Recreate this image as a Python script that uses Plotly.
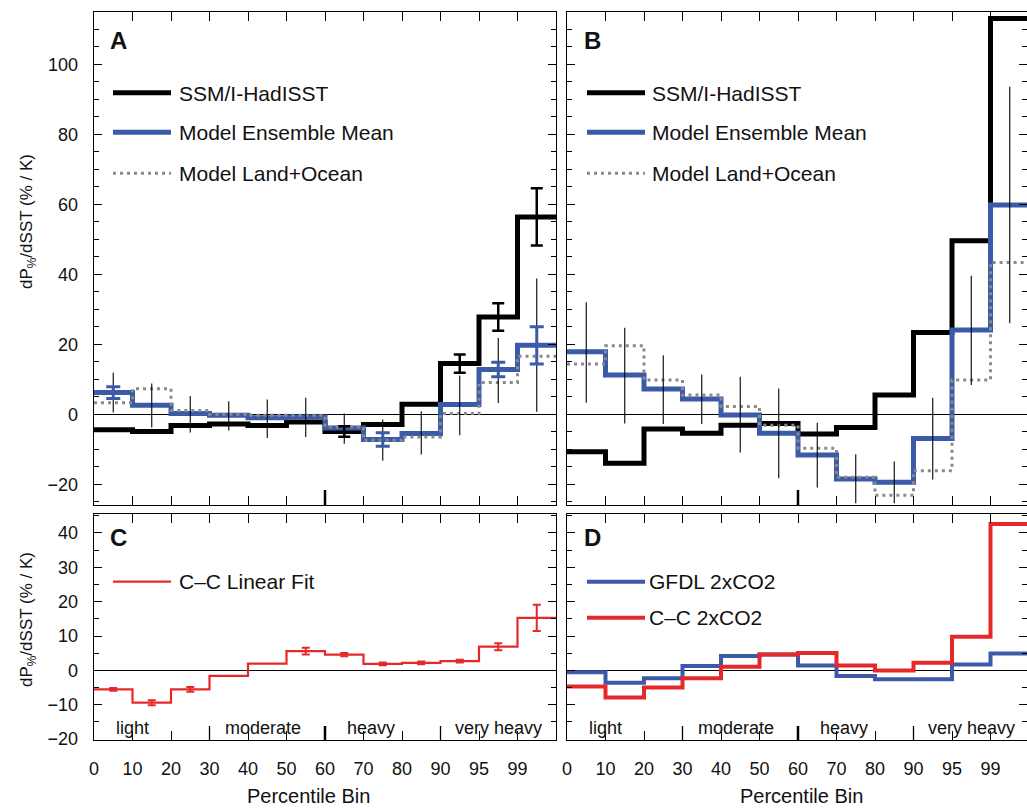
import plotly.graph_objects as go

W, H = 1027, 809
FONT = "Liberation Sans, Arial, Helvetica, sans-serif"

# ---------------- data ----------------
tick_labels = ["0", "10", "20", "30", "40", "50", "60", "70", "80", "90", "95", "99"]
categories = ["light", "moderate", "heavy", "very heavy"]
category_pos = [1.0, 4.4, 7.2, 10.5]

# Panel A
a_obs = [-4.4, -4.9, -3.2, -2.8, -3.2, -2.2, -4.9, -2.9, 2.9, 14.5, 27.8, 56.4]
a_ens = [6.2, 2.6, 0.2, -0.3, -1.0, -0.8, -3.9, -7.2, -5.5, 2.8, 12.8, 19.7]
a_lo = [3.3, 7.3, 1.1, 0.0, -0.3, -0.3, -3.6, -7.4, -6.5, 0.2, 9.1, 16.6]
a_obs_err = [None, None, None, None, None, None, 1.5, None, None, 2.6, 3.9, 8.2]
a_ens_err = [1.7, None, None, None, None, None, None, 1.9, None, None, 2.1, 5.3]
a_spread_low = [0.5, -3.8, -5.2, -4.6, -6.8, -6.5, -8.4, -13.3, -11.5, -6.0, 3.2, 0.7]
a_spread_high = [11.9, 8.8, 5.2, 3.7, 4.2, 4.7, 0.2, -1.5, 0.9, 11.1, 21.8, 38.8]

# Panel B
b_obs = [-10.7, -14.0, -4.2, -5.4, -3.1, -2.6, -5.6, -3.8, 5.5, 23.4, 49.6, 113.1]
b_ens = [17.9, 11.2, 7.2, 4.4, -0.2, -5.4, -11.6, -18.5, -19.4, -6.9, 24.1, 59.8]
b_lo = [14.4, 19.6, 9.8, 5.5, 2.2, -3.1, -9.7, -18.0, -23.1, -16.1, 9.8, 43.4]
b_spread_low = [3.3, -2.6, -2.8, -2.8, -10.9, -18.3, -20.9, -25.4, -25.4, -18.6, 8.4, 26.0]
b_spread_high = [32.0, 24.7, 16.9, 11.4, 10.7, 7.4, -2.4, -11.4, -13.5, 4.7, 39.6, 93.6]

# Panel C
c_cc = [-5.5, -9.4, -5.5, -1.6, 2.0, 5.6, 4.6, 1.9, 2.2, 2.7, 6.9, 15.3]
c_cc_err = [0.4, 0.7, 0.7, None, None, 1.0, 0.5, 0.4, 0.4, 0.4, 1.0, 3.8]

# Panel D
d_gfdl = [-0.5, -3.6, -2.3, 1.3, 4.2, 4.6, 1.4, -1.6, -2.6, -2.6, 1.7, 4.9]
d_cc = [-4.7, -7.9, -5.0, -2.3, 1.1, 4.6, 5.1, 1.4, 0.0, 2.2, 9.8, 42.6]

# ---------------- styling ----------------
BLACK = "#000000"
BLUE = "#3b5ba9"
GRAY = "#8a8a8a"
RED = "#e5292b"

def px_x(p):
    return p / W

def px_y(p):
    return 1 - p / H

# pixel geometry
A_L, A_R = 94, 556
B_L, B_R = 567, 1027
R1_T, R1_B = 12, 505
R2_T, R2_B = 514, 740
BINW = (A_R - A_L) / 12.0

fig = go.Figure()

def step(vals, xa, ya, color, width, dash=None):
    xs = list(range(len(vals) + 1))
    ys = list(vals) + [vals[-1]]
    fig.add_trace(go.Scatter(
        x=xs, y=ys, mode="lines", line_shape="hv",
        line=dict(color=color, width=width, dash=dash),
        xaxis=xa, yaxis=ya, showlegend=False, hoverinfo="skip"))

def errbars(vals, errs, xa, ya, color, thick, capw):
    xs = [i + 0.5 for i, e in enumerate(errs) if e is not None]
    ys = [vals[i] for i, e in enumerate(errs) if e is not None]
    es = [e for e in errs if e is not None]
    fig.add_trace(go.Scatter(
        x=xs, y=ys, mode="markers",
        marker=dict(size=1, color="rgba(0,0,0,0)"),
        error_y=dict(type="data", array=es, visible=True, color=color,
                     thickness=thick, width=capw),
        xaxis=xa, yaxis=ya, showlegend=False, hoverinfo="skip"))

def spread(lo, hi, xa, ya):
    xs = [i + 0.5 for i in range(len(lo))]
    fig.add_trace(go.Scatter(
        x=xs, y=lo, mode="markers",
        marker=dict(size=1, color="rgba(0,0,0,0)"),
        error_y=dict(type="data", symmetric=False,
                     array=[h - l for l, h in zip(lo, hi)],
                     arrayminus=[0] * len(lo), visible=True,
                     color=BLACK, thickness=1.1, width=0),
        xaxis=xa, yaxis=ya, showlegend=False, hoverinfo="skip"))

DOT = "3px,4px"

# Panel A
step(a_obs, "x", "y", BLACK, 5)
step(a_ens, "x", "y", BLUE, 5)
step(a_lo, "x", "y", GRAY, 3, DOT)
spread(a_spread_low, a_spread_high, "x", "y")
errbars(a_obs, a_obs_err, "x", "y", BLACK, 2.5, 6)
errbars(a_ens, a_ens_err, "x", "y", BLUE, 3, 7)

# Panel B
step(b_obs, "x2", "y2", BLACK, 5)
step(b_ens, "x2", "y2", BLUE, 5)
step(b_lo, "x2", "y2", GRAY, 3, DOT)
spread(b_spread_low, b_spread_high, "x2", "y2")

# Panel C
step(c_cc, "x3", "y3", RED, 2.2)
errbars(c_cc, c_cc_err, "x3", "y3", RED, 2, 4)

# Panel D
step(d_gfdl, "x4", "y4", BLUE, 4)
step(d_cc, "x4", "y4", RED, 4)

# ---------------- axes ----------------
def xaxis_cfg(l, r, rng, labels):
    return dict(
        domain=[px_x(l), min(1.0, px_x(r))], range=rng,
        tickmode="array", tickvals=list(range(12)),
        ticktext=tick_labels, showticklabels=labels,
        ticks="inside", ticklen=9, tickwidth=1, tickcolor=BLACK,
        showline=True, linecolor=BLACK, linewidth=1.3, mirror="allticks",
        showgrid=False, zeroline=False, automargin=False,
        tickfont=dict(family=FONT, size=18, color="#111"),
        ticklabelstandoff=12, fixedrange=True)

def yaxis_cfg(t, b, rng, dtick, labels):
    return dict(
        domain=[px_y(b), px_y(t)], range=rng,
        tick0=0, dtick=dtick, showticklabels=labels,
        ticks="inside", ticklen=8, tickwidth=1, tickcolor=BLACK,
        minor=dict(dtick=5, tick0=0, ticks="inside", ticklen=5, tickwidth=1, tickcolor=BLACK),
        showline=True, linecolor=BLACK, linewidth=1.3, mirror="allticks",
        showgrid=False, zeroline=True, zerolinecolor=BLACK, zerolinewidth=1.2,
        automargin=False,
        tickfont=dict(family=FONT, size=18, color="#111"),
        ticklabelstandoff=11, fixedrange=True)

rA = [(414.3 - R1_B) / 3.5, (414.3 - R1_T) / 3.5]
rC = [-20.25, (671.3 - R2_T) / 3.455]
b_xmax = (B_R - B_L) / BINW

xa = xaxis_cfg(A_L, A_R, [0, 12], False); xa["anchor"] = "y"
xb = xaxis_cfg(B_L, B_R, [0, b_xmax], False); xb["anchor"] = "y2"
xc = xaxis_cfg(A_L, A_R, [0, 12], True); xc["anchor"] = "y3"
xd = xaxis_cfg(B_L, B_R, [0, b_xmax], True); xd["anchor"] = "y4"
ya = yaxis_cfg(R1_T, R1_B, rA, 20, True); ya["anchor"] = "x"
yb = yaxis_cfg(R1_T, R1_B, rA, 20, False); yb["anchor"] = "x2"
yc = yaxis_cfg(R2_T, R2_B, rC, 10, True); yc["anchor"] = "x3"
yd = yaxis_cfg(R2_T, R2_B, rC, 10, False); yd["anchor"] = "x4"

fig.update_layout(
    xaxis=xa, xaxis2=xb, xaxis3=xc, xaxis4=xd,
    yaxis=ya, yaxis2=yb, yaxis3=yc, yaxis4=yd,
    width=W, height=H, margin=dict(l=0, r=0, t=0, b=0, autoexpand=False),
    paper_bgcolor="white", plot_bgcolor="white", showlegend=False,
    font=dict(family=FONT, color="#111"))

shapes = []
annotations = []

def ann(text, x, y, size, xanchor="left", bold=False, angle=0):
    annotations.append(dict(
        text=("<b>%s</b>" % text) if bold else text,
        x=px_x(x), y=px_y(y), xref="paper", yref="paper",
        xanchor=xanchor, yanchor="middle", showarrow=False, textangle=angle,
        font=dict(family=FONT, size=size, color="#111")))

def legline(x0, x1, y, color, width, dash=None):
    shapes.append(dict(type="line", xref="paper", yref="paper",
                       x0=px_x(x0), x1=px_x(x1), y0=px_y(y), y1=px_y(y),
                       line=dict(color=color, width=width, dash=dash)))

# panel letters
ann("A", 118, 41, 24, "center", True)
ann("B", 592, 41, 24, "center", True)
ann("C", 118, 537, 24, "center", True)
ann("D", 592, 537, 24, "center", True)

# legends A and B
for (l0, l1, tx) in [(113, 171, 177), (587, 645, 650)]:
    legline(l0, l1, 92.7, BLACK, 5)
    legline(l0, l1, 132.3, BLUE, 5)
    legline(l0, l1, 173.3, GRAY, 3, DOT)
    ann("SSM/I-HadISST", tx, 93, 21)
    ann("Model Ensemble Mean", tx, 132, 21)
    ann("Model Land+Ocean", tx, 173.5, 21)

# legend C
legline(113, 171, 581.7, RED, 2.2)
ann("C\u2013C Linear Fit", 177, 581.7, 21)
# legend D
legline(587, 645, 581.7, BLUE, 4)
legline(587, 645, 617.7, RED, 4)
ann("GFDL 2xCO2", 647, 581.7, 21)
ann("C\u2013C 2xCO2", 647, 617.7, 21)

# category labels
for xr in ["x3", "x4"]:
    for name, pos in zip(categories, category_pos):
        annotations.append(dict(text=name, x=pos, y=-16.9, xref=xr,
                                yref="y3" if xr == "x3" else "y4",
                                xanchor="center", yanchor="middle", showarrow=False,
                                font=dict(family=FONT, size=18, color="#111")))

# long separator ticks
for xr, yr, seps, ln, hpx in [("x", "y", [6], 15, R1_B - R1_T), ("x2", "y2", [6], 15, R1_B - R1_T),
                              ("x3", "y3", [3, 6, 9], 14, R2_B - R2_T), ("x4", "y4", [3, 6, 9], 14, R2_B - R2_T)]:
    for s in seps:
        shapes.append(dict(type="line", xref=xr, yref=yr + " domain",
                           x0=s, x1=s, y0=0, y1=ln / hpx,
                           line=dict(color=BLACK, width=2.5 if s == 6 else 1.3)))

# axis titles
ytitle = "dP<sub>%</sub>/dSST (% / K)"
ann(ytitle, 28, 222, 17, "center", angle=-90)
ann(ytitle, 28, 620, 17, "center", angle=-90)
ann("Percentile Bin", 308, 796, 20, "center")
ann("Percentile Bin", 801, 796, 20, "center")

fig.update_layout(shapes=shapes, annotations=annotations)

fig.write_html("out.html",
               config={"displayModeBar": False, "staticPlot": True},
               post_script="document.body.style.margin='0px';document.body.style.overflow='hidden';")
